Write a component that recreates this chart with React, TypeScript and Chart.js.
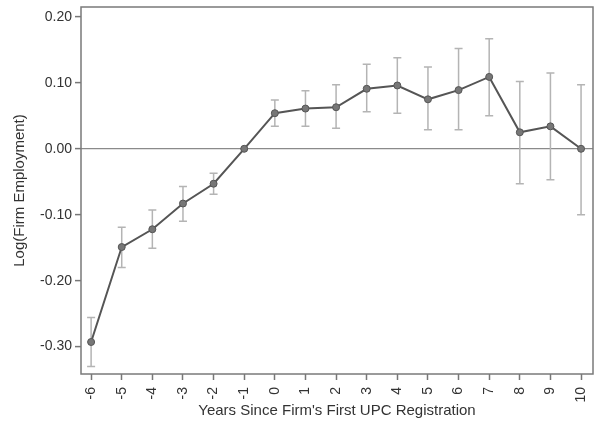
import React, { useEffect, useRef } from "react";
import { Chart, registerables } from "chart.js";
Chart.register(...registerables);

const years = [-6, -5, -4, -3, -2, -1, 0, 1, 2, 3, 4, 5, 6, 7, 8, 9, 10];
const estimates = [-0.293, -0.149, -0.122, -0.083, -0.053, 0, 0.054, 0.061, 0.063, 0.091, 0.096, 0.075, 0.089, 0.109, 0.025, 0.034, 0.0];
const ciLower = [-0.330, -0.180, -0.151, -0.110, -0.069, null, 0.034, 0.034, 0.031, 0.056, 0.054, 0.029, 0.029, 0.050, -0.053, -0.047, -0.100];
const ciUpper = [-0.256, -0.119, -0.093, -0.057, -0.037, null, 0.074, 0.088, 0.097, 0.128, 0.138, 0.124, 0.152, 0.167, 0.102, 0.115, 0.097];
const yTicks = [-0.3, -0.2, -0.1, 0, 0.1, 0.2];
const xTitle = "Years Since Firm's First UPC Registration";
const yTitle = "Log(Firm Employment)";

const FONT = "'Liberation Sans', Arial, sans-serif";

const errorBarPlugin = {
  id: "errorBars",
  beforeDatasetsDraw(chart: any) {
    const { ctx, scales } = chart;
    const x = scales.x, y = scales.y;
    ctx.save();
    ctx.strokeStyle = "#b4b4b4";
    ctx.lineWidth = 1.5;
    years.forEach((yr, i) => {
      const lo = ciLower[i], hi = ciUpper[i];
      if (lo == null || hi == null) return;
      const px = x.getPixelForValue(yr);
      const pl = y.getPixelForValue(lo);
      const ph = y.getPixelForValue(hi);
      ctx.beginPath();
      ctx.moveTo(px, pl); ctx.lineTo(px, ph);
      ctx.moveTo(px - 4, pl); ctx.lineTo(px + 4, pl);
      ctx.moveTo(px - 4, ph); ctx.lineTo(px + 4, ph);
      ctx.stroke();
    });
    ctx.restore();
  },
  afterDraw(chart: any) {
    const { ctx, chartArea } = chart;
    ctx.save();
    ctx.strokeStyle = "#7a7a7a";
    ctx.lineWidth = 1.5;
    ctx.strokeRect(chartArea.left, chartArea.top, chartArea.right - chartArea.left, chartArea.bottom - chartArea.top);
    ctx.restore();
  },
};

export default function App() {
  const ref = useRef<HTMLCanvasElement | null>(null);
  useEffect(() => {
    document.body.style.margin = "0";
    if (!ref.current) return;
    const chart = new Chart(ref.current, {
      type: "line",
      data: {
        datasets: [
          {
            data: years.map((yr, i) => ({ x: yr, y: estimates[i] })),
            borderColor: "#555555",
            borderWidth: 2,
            pointRadius: 3.5,
            pointBackgroundColor: "#777777",
            pointBorderColor: "#555555",
            pointBorderWidth: 1,
            tension: 0,
          },
        ],
      },
      options: {
        animation: false,
        responsive: true,
        maintainAspectRatio: false,
        layout: { padding: { top: 7, right: 9, left: 0, bottom: 0 } },
        plugins: { legend: { display: false }, tooltip: { enabled: false } },
        scales: {
          x: {
            type: "linear",
            min: -6.33,
            max: 10.39,
            afterBuildTicks: (s: any) => { s.ticks = years.map((v) => ({ value: v })); },
            afterFit: (s: any) => { s.height = 52; s.paddingLeft = 0; s.paddingRight = 0; },
            border: { display: false },
            grid: { drawOnChartArea: false, drawTicks: true, tickLength: 6, tickColor: "#777", tickWidth: 1.5 },
            ticks: {
              minRotation: 90,
              maxRotation: 90,
              padding: 7,
              color: "#333",
              font: { family: FONT, size: 14 },
              callback: (v: any) => String(v),
            },
            title: {
              display: true,
              text: xTitle,
              color: "#333",
              font: { family: FONT, size: 15 },
              padding: { top: 0, bottom: 6 },
            },
          },
          y: {
            type: "linear",
            min: -0.3415,
            max: 0.215,
            afterBuildTicks: (s: any) => { s.ticks = yTicks.map((v) => ({ value: v })); },
            afterFit: (s: any) => { s.width = 81; s.paddingTop = 0; s.paddingBottom = 0; },
            border: { display: false },
            grid: {
              drawOnChartArea: true,
              drawTicks: true,
              tickLength: 6,
              tickColor: "#777",
              tickWidth: 1.5,
              color: (c: any) => (c.tick && Math.abs(c.tick.value) < 1e-9 ? "#8a8a8a" : "rgba(0,0,0,0)"),
              lineWidth: 1.2,
            },
            ticks: {
              padding: 3,
              color: "#333",
              font: { family: FONT, size: 14 },
              callback: (v: any) => Number(v).toFixed(2),
            },
            title: {
              display: true,
              text: yTitle,
              color: "#333",
              font: { family: FONT, size: 15 },
              padding: { top: 11, bottom: 0 },
            },
          },
        },
      },
      plugins: [errorBarPlugin],
    } as any);
    return () => chart.destroy();
  }, []);
  return (
    <div style={{ position: "relative", width: 602, height: 426 }}>
      <canvas ref={ref} />
    </div>
  );
}
